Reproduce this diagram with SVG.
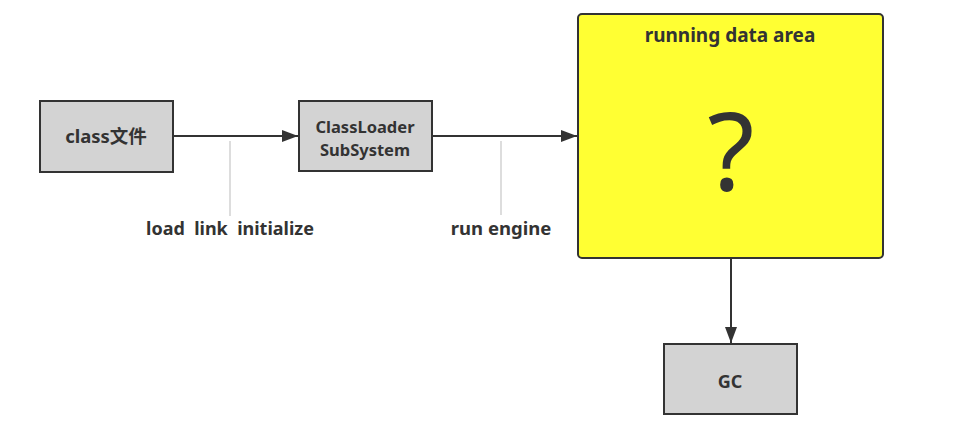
<svg xmlns="http://www.w3.org/2000/svg" width="959" height="444" viewBox="0 0 959 444">
<style>
text{font-family:"Noto Sans","Noto Sans CJK SC",sans-serif;font-weight:bold;fill:#333;text-anchor:middle}
.box{fill:#d3d3d3;stroke:#333;stroke-width:2}
.conn{stroke:#333;stroke-width:2;fill:none}
.lab{stroke:#bbb;stroke-width:1;fill:none}
</style>
<defs>
<marker id="ah" viewBox="0 0 16 12" refX="16" refY="6" markerWidth="16" markerHeight="12" markerUnits="userSpaceOnUse" orient="auto">
<path d="M0,0 L16,6 L0,12 z" fill="#333"/>
</marker>
</defs>
<rect width="959" height="444" fill="#fff"/>
<g id="connectors">
<line class="conn" x1="173" y1="136" x2="298" y2="136" marker-end="url(#ah)"/>
<line class="conn" x1="432" y1="136" x2="577" y2="136" marker-end="url(#ah)"/>
<line class="conn" x1="731" y1="258" x2="731" y2="343" marker-end="url(#ah)"/>
<line class="lab" x1="230" y1="141" x2="230" y2="216"/>
<line class="lab" x1="501" y1="141" x2="501" y2="215"/>
<text x="230" y="235" font-size="18" xml:space="preserve">load  link  initialize</text>
<text x="501" y="235" font-size="18.5">run engine</text>
</g>
<g id="classfile">
<rect class="box" x="40" y="101" width="133" height="71"/>
<text x="106" y="143" font-size="18.5">class文件</text>
</g>
<g id="classloader">
<rect class="box" x="299" y="101" width="133" height="70"/>
<text x="365" y="133" font-size="16.5">ClassLoader</text>
<text x="365" y="156" font-size="16.5">SubSystem</text>
</g>
<g id="runtime">
<rect x="578" y="14" width="305" height="244" rx="4" fill="#ffff33" stroke="#333" stroke-width="2"/>
<text x="730" y="42" font-size="19">running data area</text>
<text x="731" y="190" font-size="108" style="font-weight:normal">?</text>
</g>
<g id="gc">
<rect class="box" x="664" y="344" width="133" height="70"/>
<text x="730" y="388" font-size="18">GC</text>
</g>
</svg>
